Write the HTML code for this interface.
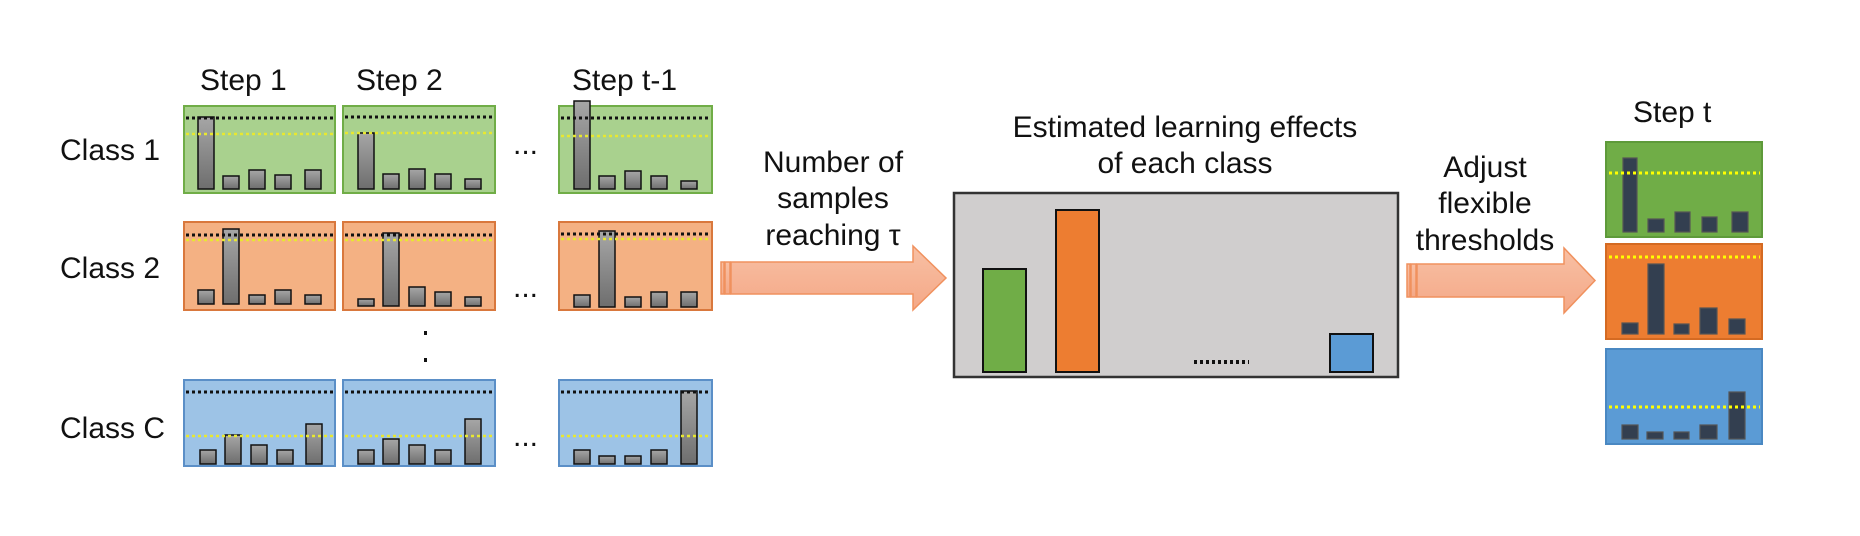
<!DOCTYPE html>
<html><head><meta charset="utf-8"><style>
html,body{margin:0;padding:0;background:#fff;}
svg{display:block;}
text{font-family:"Liberation Sans",sans-serif;fill:#111;}
</style></head><body>
<svg width="1860" height="536" viewBox="0 0 1860 536" xmlns="http://www.w3.org/2000/svg">
<defs>
<linearGradient id="bar" x1="0" y1="0" x2="0" y2="1"><stop offset="0" stop-color="#a6a6a6"/><stop offset="1" stop-color="#6e6e6e"/></linearGradient>
<linearGradient id="arr" x1="0" y1="0" x2="0" y2="1"><stop offset="0" stop-color="#f8c0a4"/><stop offset="1" stop-color="#f4a887"/></linearGradient>
</defs>

<g font-size="30">
<text x="200" y="90">Step 1</text>
<text x="356" y="90">Step 2</text>
<text x="572" y="90">Step t-1</text>
<text x="60" y="160">Class 1</text>
<text x="60" y="278">Class 2</text>
<text x="60" y="438">Class C</text>
<text x="1633" y="122">Step t</text>
<text x="833" y="172" text-anchor="middle">Number of</text>
<text x="833" y="208" text-anchor="middle">samples</text>
<text x="833" y="245" text-anchor="middle">reaching τ</text>
<text x="1185" y="137" text-anchor="middle">Estimated learning effects</text>
<text x="1185" y="173" text-anchor="middle">of each class</text>
<text x="1485" y="177" text-anchor="middle">Adjust</text>
<text x="1485" y="213" text-anchor="middle">flexible</text>
<text x="1485" y="250" text-anchor="middle">thresholds</text>
<text x="513" y="154">...</text>
<text x="513" y="297">...</text>
<text x="513" y="446">...</text>
</g>
<rect x="424" y="331" width="3" height="4" fill="#111"/>
<rect x="424" y="358" width="3" height="4" fill="#111"/>

<g>
<rect x="184" y="106" width="151" height="87" fill="#a9d18e" stroke="#70ad47" stroke-width="2"/>
<rect x="343" y="106" width="152" height="87" fill="#a9d18e" stroke="#70ad47" stroke-width="2"/>
<rect x="559" y="106" width="153" height="87" fill="#a9d18e" stroke="#70ad47" stroke-width="2"/>
<rect x="184" y="222" width="151" height="88" fill="#f4b183" stroke="#d9783d" stroke-width="2"/>
<rect x="343" y="222" width="152" height="88" fill="#f4b183" stroke="#d9783d" stroke-width="2"/>
<rect x="559" y="222" width="153" height="88" fill="#f4b183" stroke="#d9783d" stroke-width="2"/>
<rect x="184" y="380" width="151" height="86" fill="#9dc3e6" stroke="#5b8fc7" stroke-width="2"/>
<rect x="343" y="380" width="152" height="86" fill="#9dc3e6" stroke="#5b8fc7" stroke-width="2"/>
<rect x="559" y="380" width="153" height="86" fill="#9dc3e6" stroke="#5b8fc7" stroke-width="2"/>
</g>
<g stroke="#111" stroke-width="1.5" fill="url(#bar)">
<rect x="198" y="117" width="16" height="72"/><rect x="223" y="176" width="16" height="13"/><rect x="249" y="170" width="16" height="19"/><rect x="275" y="175" width="16" height="14"/><rect x="305" y="170" width="16" height="19"/>
<rect x="358" y="133" width="16" height="56"/><rect x="383" y="174" width="16" height="15"/><rect x="409" y="169" width="16" height="20"/><rect x="435" y="174" width="16" height="15"/><rect x="465" y="179" width="16" height="10"/>
<rect x="574" y="101" width="16" height="88"/><rect x="599" y="176" width="16" height="13"/><rect x="625" y="171" width="16" height="18"/><rect x="651" y="176" width="16" height="13"/><rect x="681" y="181" width="16" height="8"/>
<rect x="198" y="290" width="16" height="14"/><rect x="223" y="229" width="16" height="75"/><rect x="249" y="295" width="16" height="9"/><rect x="275" y="290" width="16" height="14"/><rect x="305" y="295" width="16" height="9"/>
<rect x="358" y="299" width="16" height="7"/><rect x="383" y="233" width="16" height="73"/><rect x="409" y="287" width="16" height="19"/><rect x="435" y="292" width="16" height="14"/><rect x="465" y="297" width="16" height="9"/>
<rect x="574" y="295" width="16" height="12"/><rect x="599" y="231" width="16" height="76"/><rect x="625" y="297" width="16" height="10"/><rect x="651" y="292" width="16" height="15"/><rect x="681" y="292" width="16" height="15"/>
<rect x="200" y="450" width="16" height="14"/><rect x="225" y="435" width="16" height="29"/><rect x="251" y="445" width="16" height="19"/><rect x="277" y="450" width="16" height="14"/><rect x="306" y="424" width="16" height="40"/>
<rect x="358" y="450" width="16" height="14"/><rect x="383" y="439" width="16" height="25"/><rect x="409" y="445" width="16" height="19"/><rect x="435" y="450" width="16" height="14"/><rect x="465" y="419" width="16" height="45"/>
<rect x="574" y="450" width="16" height="14"/><rect x="599" y="456" width="16" height="8"/><rect x="625" y="456" width="16" height="8"/><rect x="651" y="450" width="16" height="14"/><rect x="681" y="391" width="16" height="73"/>
</g>
<g stroke-width="3" stroke-dasharray="3 3" fill="none">
<path d="M186 118H334M345 117H494M561 118H711" stroke="#111"/>
<path d="M186 134H334M345 133H494M561 136H711" stroke="#e8e830" stroke-width="2.5"/>
<path d="M186 235H334M345 235H494M561 234H711" stroke="#111"/>
<path d="M186 240H334M345 240H494M561 239H711" stroke="#e8e830" stroke-width="2.5"/>
<path d="M186 392H334M345 392H494M561 392H711" stroke="#111"/>
<path d="M186 436H334M345 436H494M561 436H711" stroke="#e8e830" stroke-width="2.5"/>
</g>

<g fill="url(#arr)" stroke="#f0915e" stroke-width="1.5">
<path d="M731 262H913V246L946 278L913 310V294H731Z"/>
<rect x="721" y="262" width="3" height="32"/><rect x="725" y="262" width="5" height="32"/>
<path d="M1417 264H1564V248L1595 280.5L1564 313V297H1417Z"/>
<rect x="1407" y="264" width="3" height="33"/><rect x="1411" y="264" width="5" height="33"/>
</g>

<rect x="954" y="193" width="444" height="184" fill="#d0cece" stroke="#333" stroke-width="2.5"/>
<rect x="983" y="269" width="43" height="103" fill="#70ad47" stroke="#111" stroke-width="2"/>
<rect x="1056" y="210" width="43" height="162" fill="#ed7d31" stroke="#111" stroke-width="2"/>
<rect x="1330" y="334" width="43" height="38" fill="#5b9bd5" stroke="#111" stroke-width="2"/>
<path d="M1194 362H1249" stroke="#111" stroke-width="4" stroke-dasharray="3 3"/>

<rect x="1606" y="142" width="156" height="95" fill="#70ad47" stroke="#5e9a3a" stroke-width="2"/>
<rect x="1606" y="244" width="156" height="95" fill="#ed7d31" stroke="#d46a22" stroke-width="2"/>
<rect x="1606" y="349" width="156" height="95" fill="#5b9bd5" stroke="#4a88c2" stroke-width="2"/>
<g fill="#333f50" stroke="#555" stroke-width="1.2">
<rect x="1623" y="158" width="14" height="74"/><rect x="1648" y="219" width="16" height="13"/><rect x="1675" y="212" width="15" height="20"/><rect x="1702" y="217" width="15" height="15"/><rect x="1732" y="212" width="16" height="20"/>
<rect x="1622" y="323" width="16" height="11"/><rect x="1648" y="264" width="16" height="70"/><rect x="1674" y="324" width="15" height="10"/><rect x="1700" y="308" width="17" height="26"/><rect x="1729" y="319" width="16" height="15"/>
<rect x="1622" y="425" width="16" height="14"/><rect x="1647" y="432" width="16" height="7"/><rect x="1674" y="432" width="15" height="7"/><rect x="1700" y="425" width="17" height="14"/><rect x="1729" y="392" width="16" height="47"/>
</g>
<g stroke="#ffff00" stroke-width="3" stroke-dasharray="3 3" fill="none">
<path d="M1609 173H1760M1609 257H1760M1609 407H1760"/>
</g>
</svg>
</body></html>
